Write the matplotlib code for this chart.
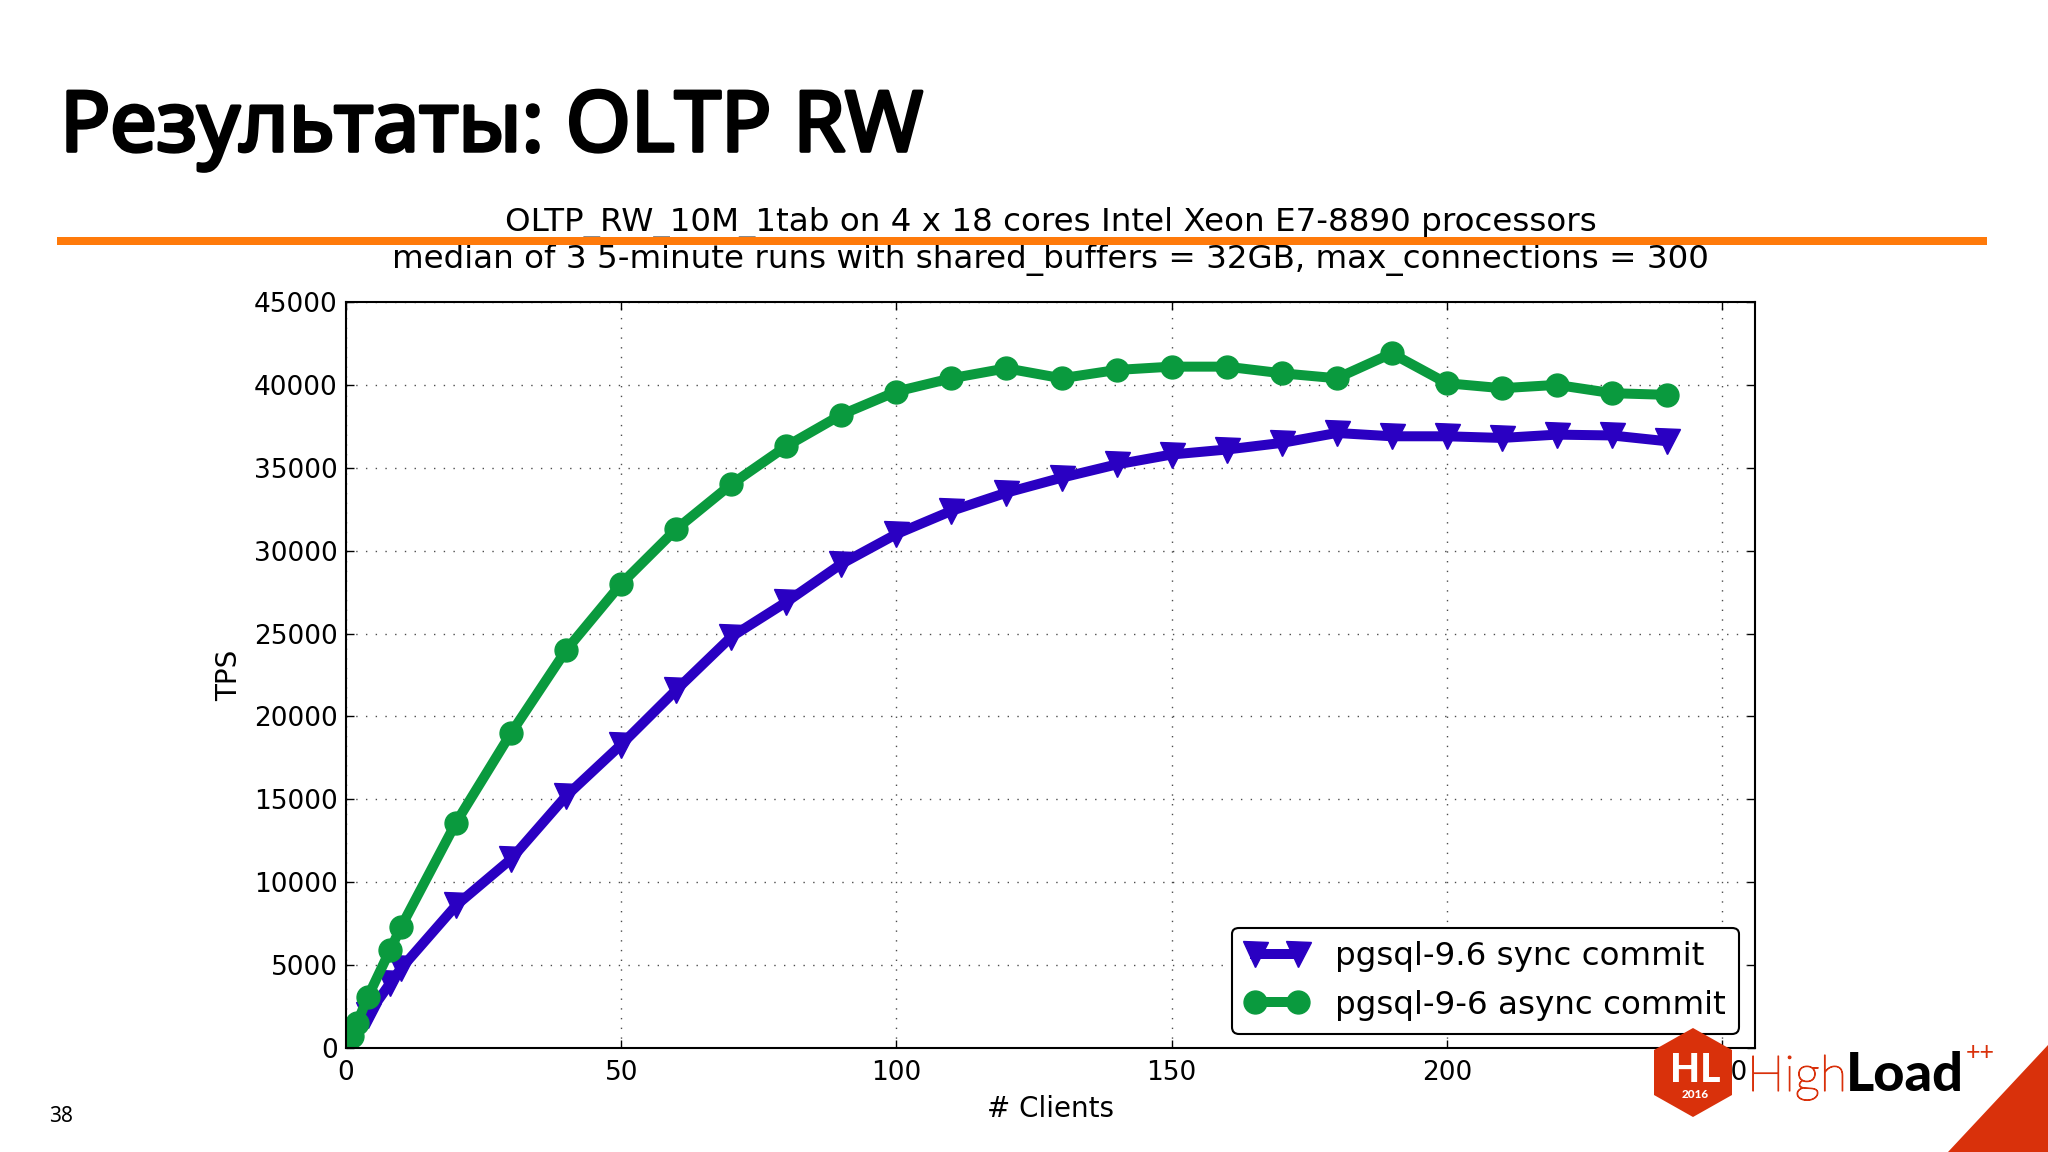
import matplotlib
matplotlib.use("Agg")
import matplotlib.pyplot as plt
import matplotlib.patheffects as pe
from matplotlib.patches import Polygon, Rectangle

clients = [1, 2, 4, 8, 10, 20, 30, 40, 50, 60, 70, 80, 90, 100, 110, 120,
           130, 140, 150, 160, 170, 180, 190, 200, 210, 220, 230, 240]
sync_tps = [500, 1000, 2000, 3900, 4800, 8600, 11400, 15200, 18300, 21600,
            24800, 26900, 29200, 31000, 32400, 33500, 34400, 35200, 35800,
            36100, 36500, 37100, 36900, 36900, 36800, 37000, 36950, 36600]
async_tps = [700, 1500, 3100, 5900, 7300, 13600, 19000, 24000, 28000, 31300,
             34000, 36300, 38200, 39600, 40400, 41000, 40400, 40900, 41100,
             41100, 40700, 40400, 41900, 40100, 39800, 40000, 39500, 39400]
x_ticks = [0, 50, 100, 150, 200, 250]
y_ticks = [0, 5000, 10000, 15000, 20000, 25000, 30000, 35000, 40000, 45000]

W, H = 2048, 1152
COL_SYNC = "#2A00C2"
COL_ASYNC = "#0A9A3E"
COL_ORANGE = "#FF7A0A"
COL_RED = "#D9310B"

fig = plt.figure(figsize=(W / 100, H / 100), dpi=100, facecolor="white")

# Chart, placed by pixel box
ax = fig.add_axes([346 / W, 1 - 1048 / H, (1755 - 346) / W, (1048 - 302) / H])
ax.plot(clients, sync_tps, color=COL_SYNC, lw=7.2, marker="v", ms=18,
        mec=COL_SYNC, label="pgsql-9.6 sync commit")
ax.plot(clients, async_tps, color=COL_ASYNC, lw=7.2, marker="o", ms=16.5,
        mec=COL_ASYNC, label="pgsql-9-6 async commit")
ax.set_xlim(0, 256)
ax.set_ylim(0, 45000)
ax.set_xticks(x_ticks)
ax.set_yticks(y_ticks)
ax.grid(True, color="black", ls=(0, (1, 6)), lw=1.0, alpha=0.7)
ax.tick_params(direction="in", top=True, right=True, labelsize=19, length=6, width=1)
ax.tick_params(axis="x", pad=9)
ax.tick_params(axis="y", pad=6)
for s in ax.spines.values():
    s.set_linewidth(1.5)
ax.set_xlabel("# Clients", fontsize=20, labelpad=6)
ax.set_ylabel("TPS", fontsize=20, labelpad=8)
ax.set_title("OLTP_RW_10M_1tab on 4 x 18 cores Intel Xeon E7-8890 processors\n"
             "median of 3 5-minute runs with shared_buffers = 32GB, max_connections = 300",
             fontsize=23.4, pad=24.5, linespacing=1.2)
leg = ax.legend(loc="lower right", bbox_to_anchor=(0.9885, 0.019), borderaxespad=0,
                fontsize=23.4, numpoints=2, fancybox=True, framealpha=1,
                edgecolor="black", handlelength=1.92, labelspacing=0.55,
                handletextpad=0.85, borderpad=0.4)
leg.get_frame().set_linewidth(1.5)

# Slide decoration on top of the chart, in image pixels
deco = fig.add_axes([0, 0, 1, 1], zorder=5)
deco.set_xlim(0, W)
deco.set_ylim(H, 0)
deco.axis("off")
deco.patch.set_alpha(0)

# installed Noto Sans has no bold face here, so thicken it with a stroke
deco.text(60, 151, "Результаты: OLTP RW", fontsize=60.1, family="Noto Sans",
          ha="left", va="baseline", color="black",
          path_effects=[pe.withStroke(linewidth=2.6, foreground="black")])
deco.add_patch(Rectangle((57, 237), 1930, 8, facecolor=COL_ORANGE, edgecolor="none"))
deco.text(61, 1116, "38", fontsize=15, family="Noto Sans", ha="center", va="center")

deco.add_patch(Polygon([(1693, 1028), (1732, 1050), (1732, 1095), (1693, 1117),
                        (1654, 1095), (1654, 1050)], facecolor=COL_RED, edgecolor="none"))
deco.text(1695, 1082, "HL", color="white", fontsize=28, fontweight="black",
          family="Lato", ha="center", va="baseline")
deco.text(1695, 1098, "2016", color="white", fontsize=8.5, fontweight="black",
          family="Lato", ha="center", va="baseline")
deco.text(1747, 1091, "High", color=COL_RED, fontsize=36, fontweight="light",
          family="Lato", ha="left", va="baseline",
          path_effects=[pe.withStroke(linewidth=0.8, foreground=COL_RED)])
deco.text(1846, 1091, "Load", color="black", fontsize=39, fontweight="black",
          family="Lato", ha="left", va="baseline")
deco.text(1966, 1060, "++", color=COL_RED, fontsize=18, family="Lato", ha="left", va="baseline")
deco.add_patch(Polygon([(2048, 1045), (1948, 1152), (2048, 1152)], facecolor=COL_RED, edgecolor="none"))

fig.savefig("out.png", dpi=100, facecolor="white")
